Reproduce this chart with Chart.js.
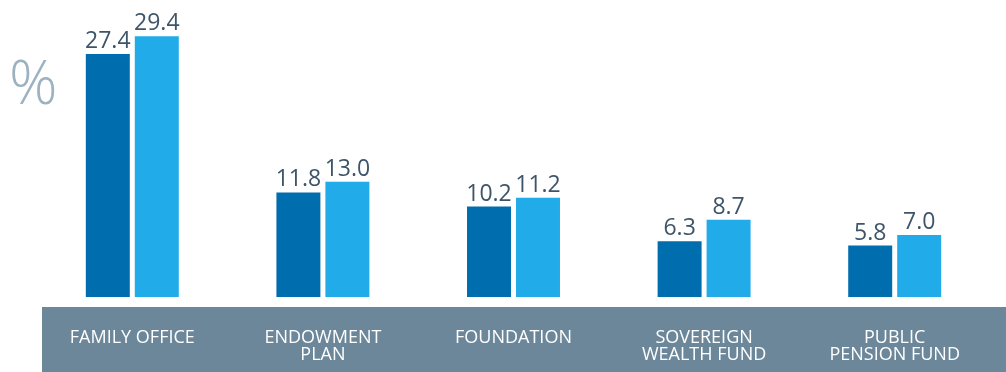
<!DOCTYPE html>
<html>
<head>
<meta charset="utf-8">
<script src="https://cdn.jsdelivr.net/npm/chart.js@4.4.0/dist/chart.umd.min.js"></script>
<style>
    html, body { margin: 0; padding: 0; background: #ffffff; }
    #wrap { width: 1006px; height: 372px; position: relative; }
</style>
</head>
<body>
<div id="wrap"><canvas id="chart"></canvas></div>
<script>
// --- chart data ---
const categories = [
    ['FAMILY OFFICE'],
    ['ENDOWMENT', 'PLAN'],
    ['FOUNDATION'],
    ['SOVEREIGN', 'WEALTH FUND'],
    ['PUBLIC', 'PENSION FUND']
];
const seriesDark = [27.4, 11.8, 10.2, 6.3, 5.8];
const seriesLight = [29.4, 13.0, 11.2, 8.7, 7.0];

const DARK = '#006eae';
const LIGHT = '#21abe9';
const BAND = '#6b8799';
const LABEL = '#3e5569';

// grey band behind the category names + the "%" unit mark
const bandPlugin = {
    id: 'band',
    beforeDraw(chart) {
        const ctx = chart.ctx;
        ctx.save();
        ctx.fillStyle = BAND;
        ctx.fillRect(42, 307, chart.width - 42, chart.height - 307);
        ctx.fillStyle = '#9db2c0';
        ctx.font = '300 60px "Open Sans", sans-serif';
        ctx.textBaseline = 'alphabetic';
        ctx.textAlign = 'left';
        ctx.fillText('%', 9, 104);
        ctx.restore();
    }
};

// value labels above each bar
const valuePlugin = {
    id: 'values',
    afterDatasetsDraw(chart) {
        const ctx = chart.ctx;
        ctx.save();
        ctx.fillStyle = LABEL;
        ctx.font = '23px "Open Sans", sans-serif';
        ctx.textAlign = 'center';
        ctx.textBaseline = 'alphabetic';
        chart.data.datasets.forEach((ds, i) => {
            chart.getDatasetMeta(i).data.forEach((bar, j) => {
                ctx.fillText(ds.data[j].toFixed(1), bar.x, bar.y - 6);
            });
        });
        ctx.restore();
    }
};

new Chart(document.getElementById('chart'), {
    type: 'bar',
    data: {
        labels: categories,
        datasets: [
            { data: seriesDark, backgroundColor: DARK },
            { data: seriesLight, backgroundColor: LIGHT }
        ]
    },
    options: {
        responsive: true,
        maintainAspectRatio: false,
        animation: false,
        layout: { padding: { left: 37, right: 16, top: 0, bottom: 0 } },
        datasets: {
            bar: { categoryPercentage: 0.514, barPercentage: 0.898 }
        },
        plugins: {
            legend: { display: false },
            tooltip: { enabled: false }
        },
        scales: {
            x: {
                grid: { display: false, drawTicks: false },
                border: { display: false },
                ticks: {
                    color: '#ffffff',
                    font: { family: '"Open Sans", sans-serif', size: 18, lineHeight: 0.92 },
                    padding: 33,
                    maxRotation: 0,
                    autoSkip: false
                },
                afterFit(scale) { scale.height = 75; }
            },
            y: {
                display: false,
                min: 0,
                max: 33.5
            }
        }
    },
    plugins: [bandPlugin, valuePlugin]
});
</script>
</body>
</html>
